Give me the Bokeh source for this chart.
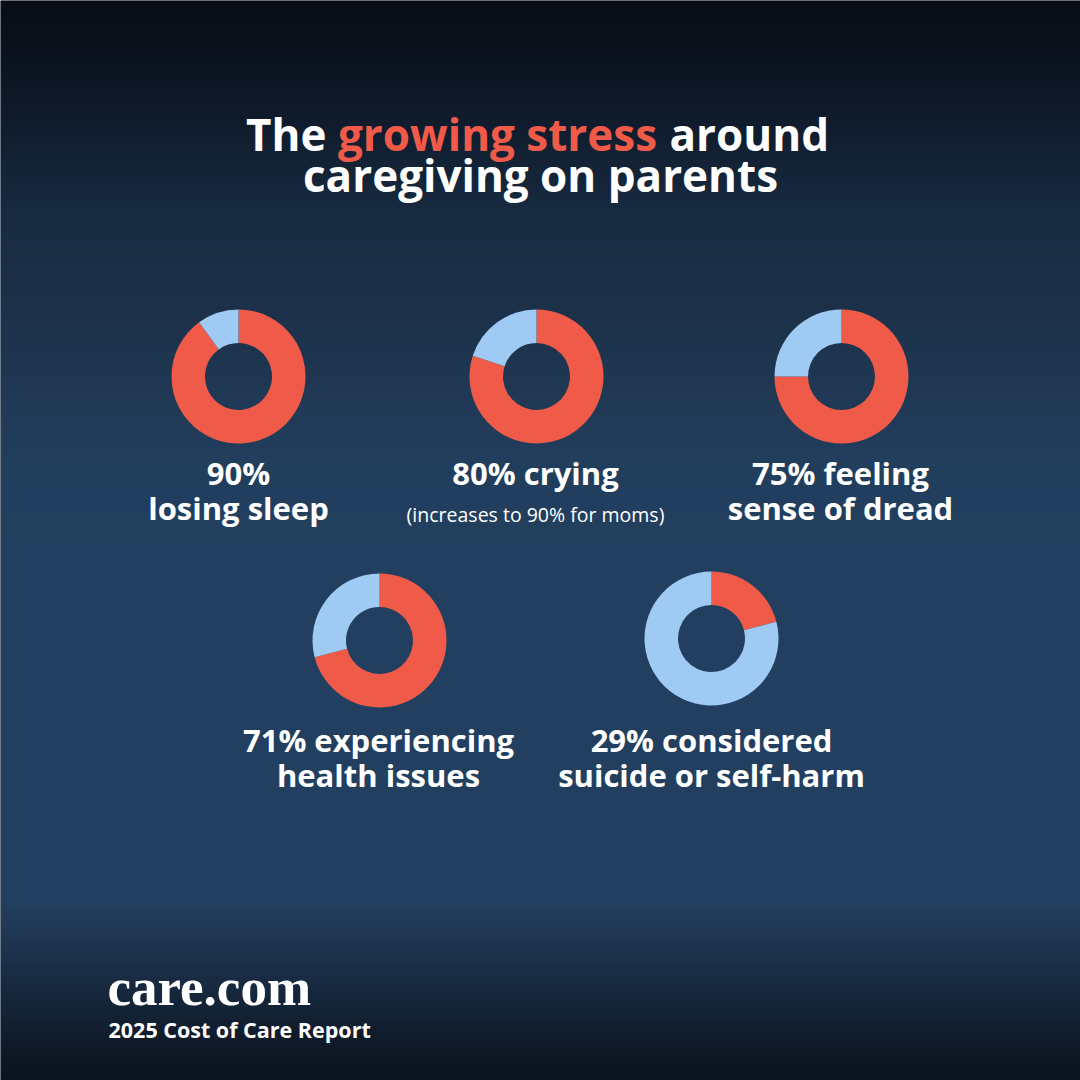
import numpy as np
from bokeh.plotting import figure
from bokeh.models import Range1d, ColumnDataSource
from bokeh.embed import file_html
from bokeh.resources import INLINE
from bokeh.core.properties import value

# ---------------- data ----------------
title_pre = "The"
title_hi = "growing stress"
title_post = "around"
title_line2 = "caregiving on parents"

# red share of each ring, as drawn (percent)
shares = [90, 80, 75, 71, 21]
label_line1 = ["90%", "80% crying", "75% feeling", "71% experiencing", "29% considered"]
label_line2 = ["losing sleep", "", "sense of dread", "health issues", "suicide or self-harm"]
note = "(increases to 90% for moms)"
brand = "care.com"
report = "2025 Cost of Care Report"

# ---------------- layout (pixels from top) ----------------
W = H = 1080
cx = [238, 536, 841, 379, 711]
cy_px = [376, 376, 376, 640, 638]
lx = [238, 535, 840, 378, 711]
l1_px = [485, 485, 485, 752, 752]
l2_px = [520, 520, 520, 787, 787]

RED = "#ef5b48"
BLUE = "#9ecaf4"
FONT = value("Open Sans")


def Y(py):
    return H - py


p = figure(width=W, height=H, x_range=Range1d(0, W), y_range=Range1d(0, H),
           output_backend="svg", toolbar_location=None, min_border=0,
           x_axis_location=None, y_axis_location=None)
p.grid.visible = False
p.outline_line_color = None
p.background_fill_color = "#1b2f47"
p.border_fill_color = "#1b2f47"

# background vertical gradient
stops = [(0, "#090c13"), (60, "#0b1320"), (110, "#0f1a2a"), (210, "#172a40"),
         (300, "#1c3048"), (460, "#223e5d"), (560, "#223f5f"), (900, "#223f5f"),
         (960, "#1b3049"), (1050, "#0e1826"), (1080, "#0b131e")]
sp = np.array([s[0] for s in stops], dtype=float)
rgb = np.array([[int(c[1][i:i + 2], 16) for i in (1, 3, 5)] for c in stops], dtype=float)
img = np.empty((H, 1), dtype=np.uint32)
view = img.view(dtype=np.uint8).reshape((H, 1, 4))
for i in range(H):
    py = H - 1 - i
    for k in range(3):
        view[i, 0, k] = int(round(np.interp(py, sp, rgb[:, k])))
    view[i, 0, 3] = 255
p.image_rgba(image=[img], x=0, y=0, dw=W, dh=H)

# donuts
fr = np.array(shares) / 100.0
src = ColumnDataSource(dict(
    x=cx, y=[Y(v) for v in cy_px],
    red_start=list(np.pi / 2 - fr * 2 * np.pi),
    red_end=[np.pi / 2] * len(fr),
    blue_start=[np.pi / 2] * len(fr),
    blue_end=list(np.pi / 2 + (1 - fr) * 2 * np.pi),
))
p.annular_wedge(x="x", y="y", inner_radius=33.5, outer_radius=67,
                start_angle="red_start", end_angle="red_end", source=src,
                fill_color=RED, line_color=None)
p.annular_wedge(x="x", y="y", inner_radius=33.5, outer_radius=67,
                start_angle="blue_start", end_angle="blue_end", source=src,
                fill_color=BLUE, line_color=None)

# title (baseline corrections for rendered offset)
TB1, TB2 = 150 - 17, 191 - 17
p.text(x=[326], y=[Y(TB1)], text=[title_pre], text_align="right", text_baseline="alphabetic",
       text_font=FONT, text_font_style="bold", text_font_size="44px", text_color="white")
p.text(x=[497], y=[Y(TB1)], text=[title_hi], text_align="center", text_baseline="alphabetic",
       text_font=FONT, text_font_style="bold", text_font_size="44px", text_color=RED)
p.text(x=[669], y=[Y(TB1)], text=[title_post], text_align="left", text_baseline="alphabetic",
       text_font=FONT, text_font_style="bold", text_font_size="44px", text_color="white")
p.text(x=[540], y=[Y(TB2)], text=[title_line2], text_align="center", text_baseline="alphabetic",
       text_font=FONT, text_font_style="bold", text_font_size="44px", text_color="white")

# labels
p.text(x=lx, y=[Y(v - 13) for v in l1_px], text=label_line1, text_align="center",
       text_baseline="alphabetic", text_font=FONT, text_font_style="bold",
       text_font_size="31px", text_color="white")
p.text(x=lx, y=[Y(v - 13) for v in l2_px], text=label_line2, text_align="center",
       text_baseline="alphabetic", text_font=FONT, text_font_style="bold",
       text_font_size="31px", text_color="white")
p.text(x=[535], y=[Y(522 - 8)], text=[note], text_align="center", text_baseline="alphabetic",
       text_font=FONT, text_font_style="normal", text_font_size="19.5px", text_color="white")

# footer
p.text(x=[107], y=[Y(1002 - 16)], text=[brand], text_align="left", text_baseline="alphabetic",
       text_font=value("Liberation Serif"), text_font_style="bold", text_font_size="53px",
       text_color="white")
p.text(x=[108], y=[Y(1037 - 8)], text=[report], text_align="left", text_baseline="alphabetic",
       text_font=FONT, text_font_style="bold", text_font_size="21.5px", text_color="white")

open("out.html", "w").write(file_html(p, INLINE))
